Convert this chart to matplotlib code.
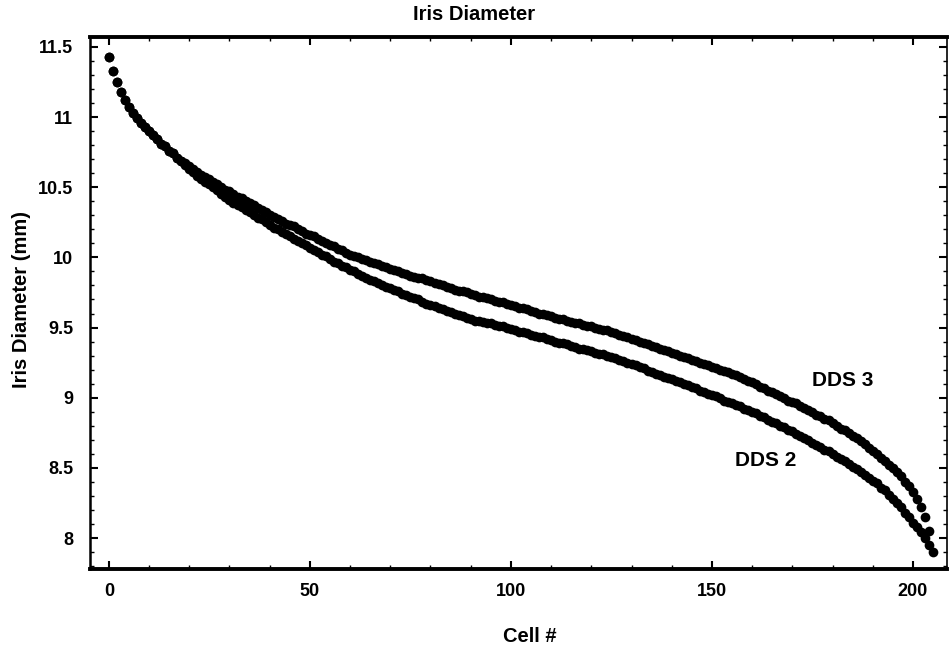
import matplotlib
matplotlib.use("Agg")
import matplotlib.pyplot as plt
from matplotlib import font_manager
from matplotlib.ticker import MultipleLocator, FuncFormatter
import numpy as np

# Iris diameter (mm) per cell
dds3 = [11.43, 11.33, 11.25, 11.18, 11.12, 11.07, 11.03, 10.99, 10.96, 10.93,
        10.90, 10.87, 10.84, 10.81, 10.79, 10.76, 10.74, 10.71, 10.69, 10.67,
        10.65, 10.63, 10.61, 10.59, 10.57, 10.56, 10.54, 10.52, 10.50, 10.48,
        10.47, 10.45, 10.43, 10.42, 10.40, 10.39, 10.37, 10.35, 10.34, 10.32,
        10.30, 10.29, 10.27, 10.26, 10.24, 10.23, 10.22, 10.20, 10.19, 10.17,
        10.16, 10.15, 10.13, 10.12, 10.10, 10.09, 10.08, 10.06, 10.05, 10.03,
        10.02, 10.01, 10.00, 9.99, 9.98, 9.97, 9.96, 9.95, 9.94, 9.93,
        9.92, 9.91, 9.90, 9.89, 9.88, 9.87, 9.86, 9.85, 9.85, 9.84,
        9.83, 9.82, 9.81, 9.80, 9.79, 9.78, 9.77, 9.76, 9.76, 9.75,
        9.74, 9.73, 9.72, 9.72, 9.71, 9.70, 9.69, 9.68, 9.68, 9.67,
        9.66, 9.65, 9.64, 9.64, 9.63, 9.62, 9.61, 9.60, 9.60, 9.59,
        9.58, 9.57, 9.56, 9.56, 9.55, 9.54, 9.53, 9.53, 9.52, 9.51,
        9.51, 9.50, 9.49, 9.48, 9.48, 9.47, 9.46, 9.45, 9.44, 9.43,
        9.42, 9.41, 9.40, 9.39, 9.38, 9.37, 9.36, 9.35, 9.34, 9.33,
        9.32, 9.31, 9.30, 9.29, 9.28, 9.27, 9.26, 9.25, 9.24, 9.23,
        9.22, 9.21, 9.20, 9.19, 9.18, 9.17, 9.16, 9.15, 9.13, 9.12,
        9.11, 9.10, 9.08, 9.07, 9.05, 9.04, 9.03, 9.01, 9.00, 8.98,
        8.97, 8.96, 8.94, 8.93, 8.91, 8.90, 8.88, 8.87, 8.85, 8.84,
        8.82, 8.80, 8.78, 8.77, 8.75, 8.73, 8.71, 8.69, 8.67, 8.64,
        8.62, 8.60, 8.57, 8.55, 8.52, 8.50, 8.47, 8.44, 8.40, 8.37,
        8.33, 8.28, 8.22, 8.15, 8.05, 7.90]

dds2 = [11.43, 11.33, 11.25, 11.18, 11.12, 11.07, 11.03, 10.99, 10.96, 10.93,
        10.90, 10.87, 10.84, 10.81, 10.79, 10.76, 10.74, 10.71, 10.69, 10.66,
        10.63, 10.61, 10.58, 10.56, 10.54, 10.52, 10.50, 10.48, 10.45, 10.43,
        10.41, 10.39, 10.37, 10.36, 10.34, 10.32, 10.30, 10.28, 10.27, 10.25,
        10.23, 10.21, 10.20, 10.18, 10.17, 10.15, 10.13, 10.12, 10.10, 10.09,
        10.07, 10.05, 10.04, 10.02, 10.01, 9.99, 9.97, 9.96, 9.94, 9.93,
        9.91, 9.90, 9.88, 9.87, 9.85, 9.84, 9.83, 9.82, 9.80, 9.79,
        9.78, 9.77, 9.76, 9.74, 9.73, 9.72, 9.71, 9.70, 9.68, 9.67,
        9.66, 9.65, 9.64, 9.63, 9.62, 9.61, 9.60, 9.59, 9.58, 9.57,
        9.56, 9.55, 9.55, 9.54, 9.53, 9.53, 9.52, 9.51, 9.51, 9.50,
        9.49, 9.48, 9.47, 9.47, 9.46, 9.45, 9.44, 9.43, 9.43, 9.42,
        9.41, 9.40, 9.39, 9.39, 9.38, 9.37, 9.36, 9.35, 9.35, 9.34,
        9.33, 9.32, 9.31, 9.31, 9.30, 9.29, 9.28, 9.27, 9.26, 9.25,
        9.24, 9.23, 9.22, 9.21, 9.19, 9.18, 9.17, 9.16, 9.15, 9.14,
        9.13, 9.12, 9.11, 9.10, 9.09, 9.08, 9.07, 9.05, 9.04, 9.03,
        9.02, 9.01, 9.00, 8.98, 8.97, 8.96, 8.95, 8.94, 8.92, 8.91,
        8.90, 8.89, 8.87, 8.86, 8.84, 8.83, 8.82, 8.80, 8.79, 8.77,
        8.76, 8.74, 8.73, 8.71, 8.70, 8.68, 8.66, 8.65, 8.63, 8.62,
        8.60, 8.58, 8.56, 8.55, 8.53, 8.51, 8.49, 8.47, 8.45, 8.43,
        8.41, 8.39, 8.36, 8.34, 8.31, 8.28, 8.25, 8.22, 8.18, 8.15,
        8.11, 8.08, 8.04, 8.00, 7.95]

xticks = [0, 50, 100, 150, 200]
yticks = [8, 8.5, 9, 9.5, 10, 10.5, 11, 11.5]

installed = {f.name for f in font_manager.fontManager.ttflist}
narrow = "Liberation Sans Narrow" if "Liberation Sans Narrow" in installed else "Liberation Sans"
plt.rcParams["font.family"] = ["Liberation Sans", "DejaVu Sans"]

fig = plt.figure(figsize=(9.49, 6.49), dpi=100)
ax = fig.add_axes([0.0948, 0.1233, 0.9032, 0.8197])

ax.plot(np.arange(len(dds2)), dds2, "o", color="black", ms=7, mec="none")
ax.plot(np.arange(len(dds3)), dds3, "o", color="black", ms=7, mec="none")

ax.set_xlim(-4.7, 208.5)
ax.set_ylim(7.78, 11.57)
ax.set_xticks(xticks)
ax.set_yticks(yticks)
ax.xaxis.set_minor_locator(MultipleLocator(10))
ax.yaxis.set_minor_locator(MultipleLocator(0.1))
ax.yaxis.set_major_formatter(FuncFormatter(lambda v, p: "%g" % v))

ax.tick_params(which="both", direction="in", top=True, right=True, color="black")
ax.tick_params(which="major", length=6, width=1.5)
ax.tick_params(which="minor", length=3, width=1)
ax.tick_params(axis="x", pad=10, labelsize=13)
ax.tick_params(axis="y", pad=12, labelsize=13)
for lab in ax.get_xticklabels() + ax.get_yticklabels():
    lab.set_fontweight("bold")

ax.spines["top"].set_linewidth(2.8)
ax.spines["bottom"].set_linewidth(2.8)
ax.spines["left"].set_linewidth(1.8)
ax.spines["right"].set_linewidth(1.2)

ax.text(182.6, 9.125, "DDS 3", fontsize=15, fontweight="bold", ha="center", va="center")
ax.text(163.4, 8.55, "DDS 2", fontsize=15, fontweight="bold", ha="center", va="center")

fig.text(474 / 949, 1 - 15 / 649, "Iris Diameter", fontsize=14.5, fontweight="bold",
         family=[narrow, "DejaVu Sans"], ha="center", va="center")
fig.text(530 / 949, 1 - 637 / 649, "Cell #", fontsize=14.5, fontweight="bold",
         family=[narrow, "DejaVu Sans"], ha="center", va="center")
fig.text(22 / 949, 1 - 300 / 649, "Iris Diameter (mm)", fontsize=14.5, fontweight="bold",
         family=[narrow, "DejaVu Sans"], rotation=90, ha="center", va="center")

fig.savefig("out.png", dpi=100)
